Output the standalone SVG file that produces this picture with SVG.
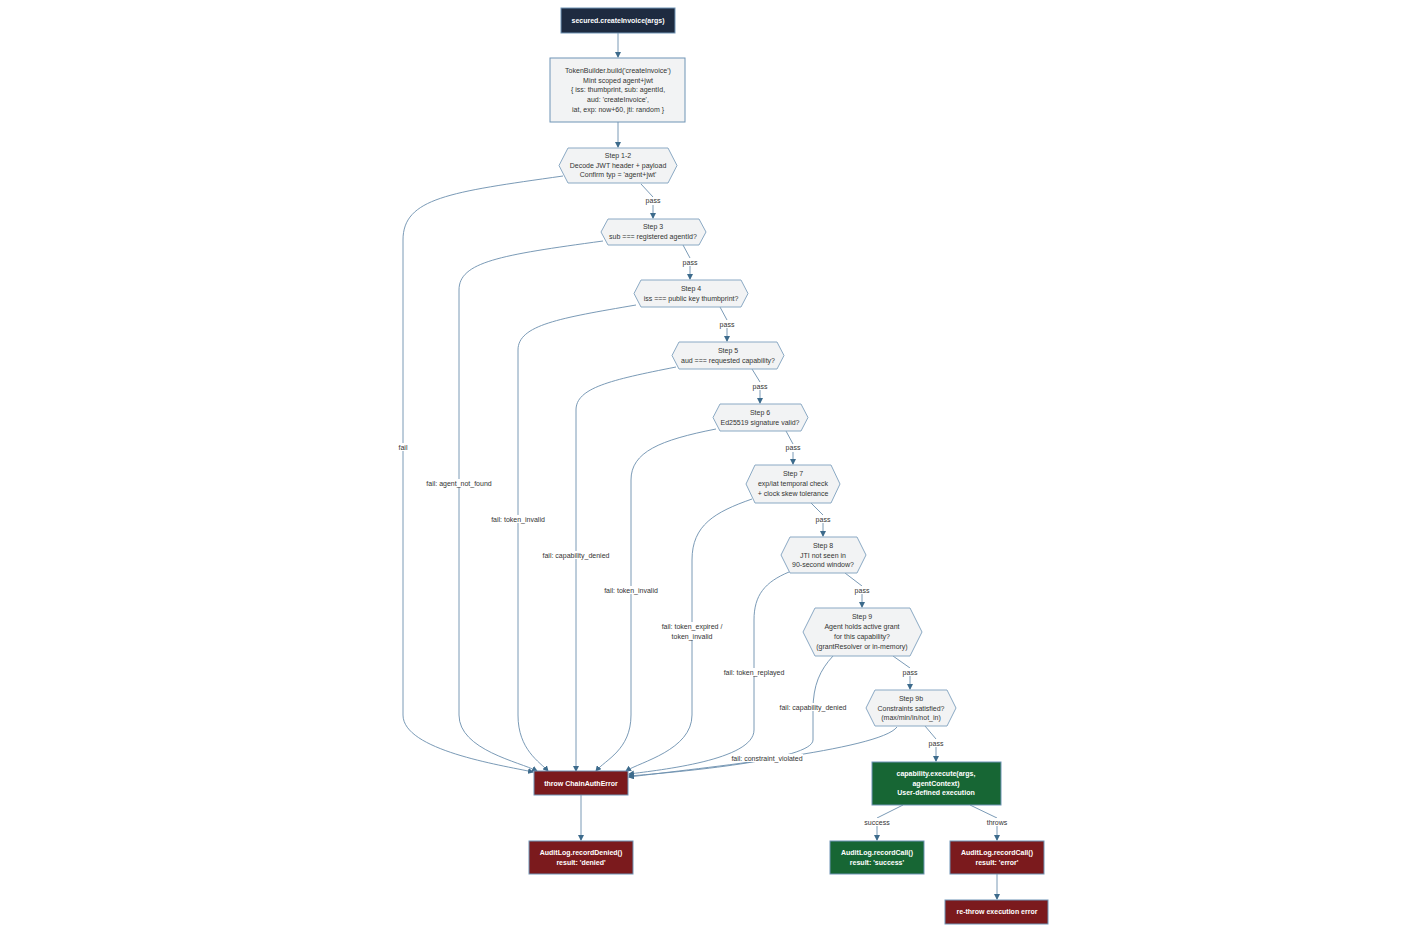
<svg xmlns="http://www.w3.org/2000/svg" width="1412" height="939" viewBox="0 0 1412 939">
<style>
text{font-family:"Liberation Sans",Arial,sans-serif;font-size:7px;text-anchor:middle;fill:#333}
.w{fill:#fff;font-weight:bold}
.hex{fill:#f2f3f4;stroke:#8aa9c4;stroke-width:1}
.box{fill:#f2f3f4;stroke:#6f94b5;stroke-width:1}
.dark{fill:#1e2b40;stroke:#6f94b5}
.red{fill:#7b1a1d;stroke:#6f94b5}
.grn{fill:#176634;stroke:#6f94b5}
.e{fill:none;stroke:#6b8fae;stroke-width:0.9;marker-end:url(#a)}
.lb{fill:#fff}
</style>
<defs><marker id="a" markerWidth="6" markerHeight="6" refX="5" refY="3" orient="auto" markerUnits="userSpaceOnUse"><path d="M0,0L6,3L0,6z" fill="#3d6b8c"/></marker></defs>
<rect width="1412" height="939" fill="#fff"/>
<g id="edges">
<path class="e" d="M618,33V57"/>
<path class="e" d="M618,122V147"/>
<path class="e" d="M641,184L653,197V218"/>
<path class="e" d="M683,245L690,258V279"/>
<path class="e" d="M720,307L727,320V341"/>
<path class="e" d="M752,369L760,382V403"/>
<path class="e" d="M786,431L793,444V464"/>
<path class="e" d="M811,503L823,515V536"/>
<path class="e" d="M845,573L862,586V607"/>
<path class="e" d="M893,656L910,668V689"/>
<path class="e" d="M925,726L936,739V761"/>
<path class="e" d="M581,795V840"/>
<path class="e" d="M903,805L877,818V840"/>
<path class="e" d="M970,805L997,818V840"/>
<path class="e" d="M997,874V899"/>
<path class="e" d="M563,176C450,192 403,198 403,240V715C403,750 500,765 533,772"/>
<path class="e" d="M603,241C500,255 459,262 459,290V715C459,750 520,762 537,771"/>
<path class="e" d="M636,305C560,318 518,325 518,350V715C518,750 540,762 548,771"/>
<path class="e" d="M676,367C610,380 576,388 576,410V771"/>
<path class="e" d="M716,429C660,440 631,452 631,480V715C631,750 605,760 596,771"/>
<path class="e" d="M752,499C715,512 692,525 692,560V715C692,750 640,762 626,771"/>
<path class="e" d="M789,572C765,582 754,595 754,620V730C754,760 660,770 629,774"/>
<path class="e" d="M833,656C820,670 813,685 813,710V740C813,760 680,772 629,776"/>
<path class="e" d="M897,727C880,750 700,768 629,777"/>
</g>
<g id="labels">
<rect class="lb" x="644" y="197" width="18" height="8"/><text x="653" y="203">pass</text>
<rect class="lb" x="681" y="258" width="18" height="8"/><text x="690" y="265">pass</text>
<rect class="lb" x="718" y="320" width="18" height="8"/><text x="727" y="327">pass</text>
<rect class="lb" x="751" y="382" width="18" height="8"/><text x="760" y="389">pass</text>
<rect class="lb" x="784" y="444" width="18" height="8"/><text x="793" y="450">pass</text>
<rect class="lb" x="814" y="515" width="18" height="8"/><text x="823" y="522">pass</text>
<rect class="lb" x="853" y="586" width="18" height="8"/><text x="862" y="593">pass</text>
<rect class="lb" x="901" y="668" width="18" height="8"/><text x="910" y="675">pass</text>
<rect class="lb" x="927" y="739" width="18" height="8"/><text x="936" y="746">pass</text>
<rect class="lb" x="862" y="818" width="30" height="8"/><text x="877" y="825">success</text>
<rect class="lb" x="984" y="818" width="26" height="8"/><text x="997" y="825">throws</text>
<rect class="lb" x="395" y="443" width="16" height="8"/><text x="403" y="450">fail</text>
<rect class="lb" x="425" y="479" width="68" height="8"/><text x="459" y="486">fail: agent_not_found</text>
<rect class="lb" x="490" y="515" width="56" height="8"/><text x="518" y="522">fail: token_invalid</text>
<rect class="lb" x="542" y="551" width="68" height="8"/><text x="576" y="558">fail: capability_denied</text>
<rect class="lb" x="603" y="586" width="56" height="8"/><text x="631" y="593">fail: token_invalid</text>
<rect class="lb" x="660" y="622" width="64" height="18"/><text x="692" y="629">fail: token_expired /</text><text x="692" y="639">token_invalid</text>
<rect class="lb" x="722" y="668" width="64" height="8"/><text x="754" y="675">fail: token_replayed</text>
<rect class="lb" x="779" y="703" width="68" height="8"/><text x="813" y="710">fail: capability_denied</text>
<rect class="lb" x="731" y="754" width="72" height="8"/><text x="767" y="761">fail: constraint_violated</text>
</g>
<g id="start"><rect class="dark" x="561" y="8" width="114" height="25"/><text class="w" x="618" y="23">secured.createInvoice(args)</text></g>
<g id="mint"><rect class="box" x="550" y="58" width="135" height="64"/><text x="618" y="73">TokenBuilder.build('createInvoice')</text><text x="618" y="83">Mint scoped agent+jwt</text><text x="618" y="92">{ iss: thumbprint, sub: agentId,</text><text x="618" y="102">aud: 'createInvoice',</text><text x="618" y="112">iat, exp: now+60, jti: random }</text></g>
<g id="s12"><polygon class="hex" points="568,148 668,148 677,165.5 668,183 568,183 559,165.5"/><text x="618" y="158">Step 1-2</text><text x="618" y="168">Decode JWT header + payload</text><text x="618" y="177">Confirm typ = 'agent+jwt'</text></g>
<g id="s3"><polygon class="hex" points="608,219 699,219 706,232 699,245 608,245 601,232"/><text x="653" y="229">Step 3</text><text x="653" y="239">sub === registered agentId?</text></g>
<g id="s4"><polygon class="hex" points="641,280 741,280 748,293.5 741,307 641,307 634,293.5"/><text x="691" y="291">Step 4</text><text x="691" y="301">iss === public key thumbprint?</text></g>
<g id="s5"><polygon class="hex" points="679,342 777,342 784,355.5 777,369 679,369 672,355.5"/><text x="728" y="353">Step 5</text><text x="728" y="363">aud === requested capability?</text></g>
<g id="s6"><polygon class="hex" points="720,404 801,404 808,417.5 801,431 720,431 713,417.5"/><text x="760" y="415">Step 6</text><text x="760" y="425">Ed25519 signature valid?</text></g>
<g id="s7"><polygon class="hex" points="755,465 831,465 840,484 831,503 755,503 746,484"/><text x="793" y="476">Step 7</text><text x="793" y="486">exp/iat temporal check</text><text x="793" y="496">+ clock skew tolerance</text></g>
<g id="s8"><polygon class="hex" points="790,537 857,537 866,555 857,573 790,573 781,555"/><text x="823" y="548">Step 8</text><text x="823" y="558">JTI not seen in</text><text x="823" y="567">90-second window?</text></g>
<g id="s9"><polygon class="hex" points="815,608 910,608 922,632 910,656 815,656 803,632"/><text x="862" y="619">Step 9</text><text x="862" y="629">Agent holds active grant</text><text x="862" y="639">for this capability?</text><text x="862" y="649">(grantResolver or in-memory)</text></g>
<g id="s9b"><polygon class="hex" points="875,690 947,690 956,708 947,726 875,726 866,708"/><text x="911" y="701">Step 9b</text><text x="911" y="711">Constraints satisfied?</text><text x="911" y="720">(max/min/in/not_in)</text></g>
<g id="exec"><rect class="grn" x="872" y="762" width="129" height="43"/><text class="w" x="936" y="776">capability.execute(args,</text><text class="w" x="936" y="786">agentContext)</text><text class="w" x="936" y="795">User-defined execution</text></g>
<g id="err"><rect class="red" x="534" y="771" width="94" height="24"/><text class="w" x="581" y="786">throw ChainAuthError</text></g>
<g id="denied"><rect class="red" x="529" y="841" width="104" height="33"/><text class="w" x="581" y="855">AuditLog.recordDenied()</text><text class="w" x="581" y="865">result: 'denied'</text></g>
<g id="success"><rect class="grn" x="830" y="841" width="94" height="33"/><text class="w" x="877" y="855">AuditLog.recordCall()</text><text class="w" x="877" y="865">result: 'success'</text></g>
<g id="error"><rect class="red" x="950" y="841" width="94" height="33"/><text class="w" x="997" y="855">AuditLog.recordCall()</text><text class="w" x="997" y="865">result: 'error'</text></g>
<g id="rethrow"><rect class="red" x="945" y="900" width="103" height="24"/><text class="w" x="997" y="914">re-throw execution error</text></g>
</svg>
